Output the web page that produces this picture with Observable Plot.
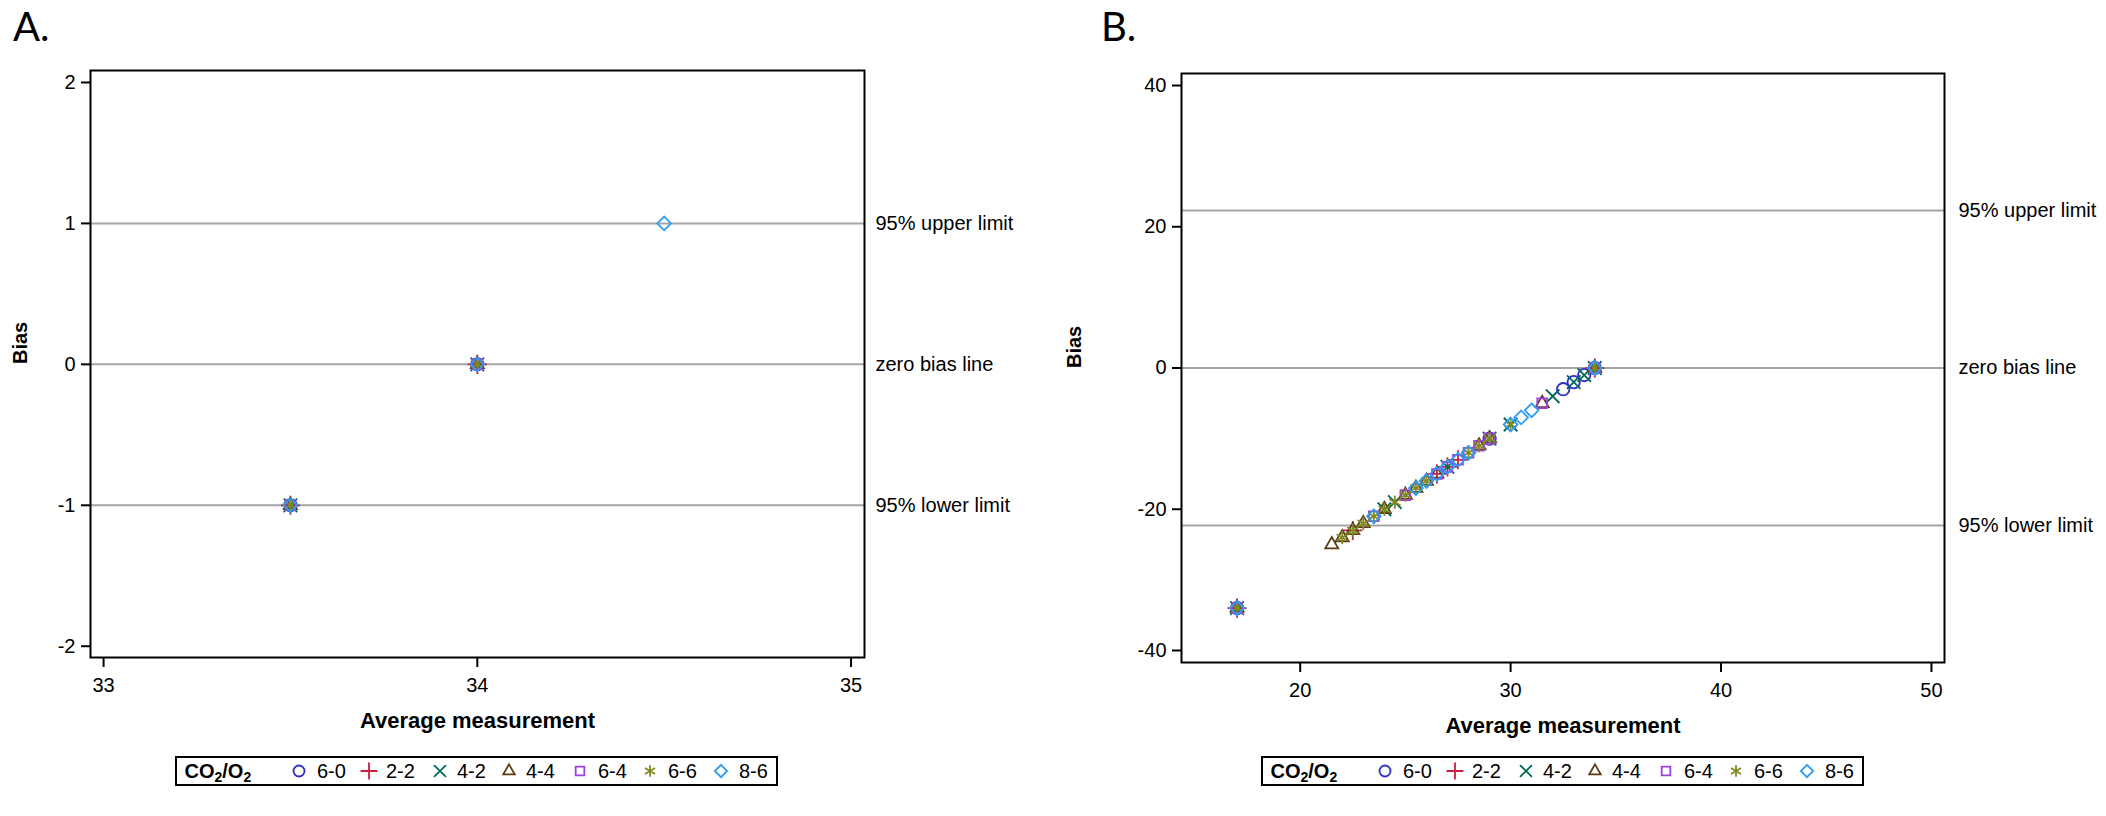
<!DOCTYPE html>
<html><head><meta charset="utf-8">
<script src="https://cdn.jsdelivr.net/npm/d3@7"></script>
<script src="https://cdn.jsdelivr.net/npm/@observablehq/plot@0.6"></script>
<style>
body{margin:0;background:#fff;}
#root{position:relative;width:2106px;height:816px;overflow:hidden;background:#fff;font-family:"Liberation Sans",Arial,sans-serif;}
.abs{position:absolute;}
</style></head><body><div id="root"></div>
<script>
// ---- groups / styling keys ----
const groups = ["6-0","2-2","4-2","4-4","6-4","6-6","8-6"];
const colors = ["#2e2ec8","#c8203c","#006a5a","#5c3c14","#a040e0","#808a20","#2f9cf4"];
const symbols = ["circle","plus","times","triangle2","square2","asterisk","diamond2"];

// ---- Panel A data: [average, bias] per group ----
const a60 = [[33.5,-1],[34,0]];
const a22 = [[33.5,-1],[34,0]];
const a42 = [[33.5,-1],[34,0]];
const a44 = [[33.5,-1],[34,0]];
const a64 = [[33.5,-1],[34,0]];
const a66 = [[33.5,-1],[34,0]];
const a86 = [[33.5,-1],[34,0],[34.5,1]];
const aLimits = [1, 0, -1];

// ---- Panel B data: [average, bias] per group ----
const b60 = [[17,-34],[29,-10],[32.5,-3],[33,-2],[33.5,-1],[34,0]];
const b22 = [[17,-34],[22.5,-23],[26.5,-15],[27,-14],[27.5,-13],[34,0]];
const b42 = [[17,-34],[24,-20],[24.5,-19],[27,-14],[29,-10],[30,-8],[32,-4],[33,-2],[33.5,-1],[34,0]];
const b44 = [[17,-34],[21.5,-25],[22,-24],[22.5,-23],[23,-22],[24,-20],[25,-18],[25.5,-17],[26,-16],[26.5,-15],[28.5,-11],[29,-10],[31.5,-5],[34,0]];
const b64 = [[17,-34],[23.5,-21],[25,-18],[26.5,-15],[27,-14],[27.5,-13],[28,-12],[28.5,-11],[29,-10],[31.5,-5],[34,0]];
const b66 = [[17,-34],[22,-24],[22.5,-23],[23,-22],[23.5,-21],[24,-20],[24.5,-19],[25,-18],[25.5,-17],[26,-16],[28,-12],[28.5,-11],[29,-10],[30,-8],[34,0]];
const b86 = [[17,-34],[23.5,-21],[25.5,-17],[26,-16],[26.5,-15],[27,-14],[27.5,-13],[28,-12],[30,-8],[30.5,-7],[31,-6],[34,0]];
const bLimits = [22.3, 0, -22.3];

const limitLabels = ["95% upper limit","zero bias line","95% lower limit"];
const aTicksX = [33,34,35], aTicksY = [-2,-1,0,1,2];
const bTicksX = [20,30,40,50], bTicksY = [-40,-20,0,20,40];

function toRows(lists){
  const rows = [];
  lists.forEach((lst,i)=>lst.forEach(([avg,bias])=>rows.push({group:groups[i],avg,bias})));
  return rows;
}
const aRows = toRows([a60,a22,a42,a44,a64,a66,a86]);
const bRows = toRows([b60,b22,b42,b44,b64,b66,b86]);

const tickFont = '"Liberation Sans", Arial, sans-serif';
const root = document.getElementById("root");

function panel({rows, limits, xDomain, yDomain, xTicks, yTicks, mL, mR, mT, mB, biasDx, refDx}){
  const refs = limits.map((v,i)=>({v, label: limitLabels[i]}));
  return Plot.plot({
    width:1053, height:750,
    marginLeft:mL, marginRight:mR, marginTop:mT, marginBottom:mB,
    x:{domain:xDomain},
    y:{domain:yDomain},
    symbol:{domain:groups, range:symbols},
    color:{domain:groups, range:colors},
    style:{fontFamily:tickFont, fontSize:"20px", background:"transparent", color:"black", overflow:"visible"},
    marks:[
      Plot.ruleY(refs,{y:"v", stroke:"#a6a6a6", strokeWidth:2}),
      Plot.dot(rows,{x:"avg", y:"bias", symbol:"group", stroke:"group", r:6.2, strokeWidth:1.8}),
      Plot.frame({stroke:"black", strokeWidth:2}),
      Plot.axisX({ticks:xTicks, tickSize:10, tickPadding:10, label:null, strokeWidth:2, tickFormat:d=>String(d)}),
      Plot.axisY({ticks:yTicks, tickSize:9, tickPadding:6, label:null, strokeWidth:2, tickFormat:d=>String(d)}),
      Plot.text(["Average measurement"],{frameAnchor:"bottom", dy:70, text:d=>d, fontWeight:"bold", fontSize:22}),
      Plot.text(["Bias"],{frameAnchor:"left", dx:biasDx, rotate:-90, text:d=>d, fontWeight:"bold", fontSize:20}),
      Plot.text(refs,{y:"v", text:"label", frameAnchor:"right", textAnchor:"start", dx:refDx, fontSize:20})
    ]
  });
}

const pA = panel({rows:aRows, limits:aLimits, xDomain:[32.965,35.036], yDomain:[-2.08,2.085],
  xTicks:aTicksX, yTicks:aTicksY, mL:90, mR:189, mT:70, mB:93, biasDx:-70, refDx:11});
pA.classList.add("abs"); pA.style.left="0px"; pA.style.top="0px";
root.appendChild(pA);

const pB = panel({rows:bRows, limits:bLimits, xDomain:[14.36,50.62], yDomain:[-41.7,41.7],
  xTicks:bTicksX, yTicks:bTicksY, mL:128, mR:162, mT:73, mB:88, biasDx:-107, refDx:14});
pB.classList.add("abs"); pB.style.left="1053px"; pB.style.top="0px";
root.appendChild(pB);

// panel letters
const letters = d3.select(root).append("svg").attr("class","abs")
  .style("left","0px").style("top","0px").attr("width",2106).attr("height",60);
letters.selectAll("text").data([["A.",13],["B.",1101]]).join("text")
  .attr("x",d=>d[1]).attr("y",41).text(d=>d[0])
  .style("font-family","Lato, 'Open Sans', sans-serif").style("font-size","40px");

// legends
const symOffsets = [124,194,265,334,405,475,546];
const txtOffsets = [142,211,282,351,423,493,564];
const d3sym = {circle:d3.symbolCircle, plus:d3.symbolPlus, times:d3.symbolTimes, triangle2:d3.symbolTriangle2,
  square2:d3.symbolSquare2, asterisk:d3.symbolAsterisk, diamond2:d3.symbolDiamond2};
function legend(left, top){
  const svg = d3.select(root).append("svg").attr("class","abs")
    .style("left",left+"px").style("top",top+"px").attr("width",604).attr("height",31);
  svg.append("rect").attr("x",1).attr("y",1).attr("width",601).attr("height",28)
    .attr("fill","white").attr("stroke","black").attr("stroke-width",2);
  const t = svg.append("text").attr("x",9.5).attr("y",22)
    .style("font-family",tickFont).style("font-size","20px").style("font-weight","bold");
  t.append("tspan").text("CO");
  t.append("tspan").text("2").attr("dy",4).style("font-size","14px");
  t.append("tspan").text("/O").attr("dy",-4);
  t.append("tspan").text("2").attr("dy",4).style("font-size","14px");
  groups.forEach((g,i)=>{
    svg.append("path").attr("d", d3.symbol(d3sym[symbols[i]], Math.PI*5.5*5.5)())
      .attr("transform",`translate(${symOffsets[i]},15)`)
      .attr("fill","none").attr("stroke",colors[i]).attr("stroke-width",1.8);
    svg.append("text").attr("x",txtOffsets[i]).attr("y",22).text(g)
      .style("font-family",tickFont).style("font-size","20px");
  });
}
legend(175,756);
legend(1261,756);
</script></body></html>
